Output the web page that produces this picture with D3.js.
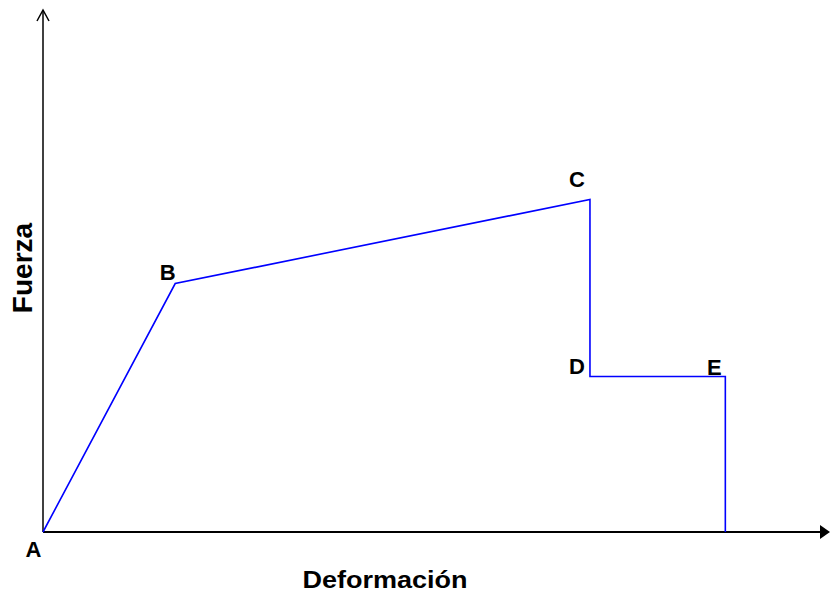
<!DOCTYPE html>
<html><head><meta charset="utf-8">
<script src="https://cdn.jsdelivr.net/npm/d3@7/dist/d3.min.js"></script>
<style>body{margin:0;background:#fff}svg{display:block}text{font-family:"Liberation Sans",Arial,sans-serif;font-weight:bold;fill:#000}</style>
</head><body>
<script>
const pointLabels = ["A","B","C","D","E"];
const deformacion = [0, 16.8, 69.5, 69.5, 86.7, 86.7];
const fuerza      = [0, 47.6, 63.7, 29.8, 29.8, 0];
const xTitle = "Deformación";
const yTitle = "Fuerza";

const W = 830, H = 596;
const svg = d3.select("body").append("svg").attr("width", W).attr("height", H);
const x = d3.scaleLinear().domain([0, 100]).range([43, 830]);
const y = d3.scaleLinear().domain([0, 100]).range([532, 10]);

// axes
svg.append("line").attr("x1", x(0)).attr("y1", y(0)).attr("x2", x(0)).attr("y2", y(100) + 1)
  .attr("stroke", "#000").attr("stroke-width", 1.5);
svg.append("path").attr("d", `M${x(0)-6},${y(100)+11}L${x(0)},${y(100)}L${x(0)+6},${y(100)+11}`)
  .attr("fill", "none").attr("stroke", "#000").attr("stroke-width", 1.5);
svg.append("line").attr("x1", x(0)).attr("y1", y(0)).attr("x2", x(100) - 8).attr("y2", y(0))
  .attr("stroke", "#000").attr("stroke-width", 2);
svg.append("path").attr("d", `M${x(100)-10},${y(0)-7}L${x(100)},${y(0)}L${x(100)-10},${y(0)+7}Z`)
  .attr("fill", "#000");

// curve
const pts = deformacion.map((d, i) => [d, fuerza[i]]);
svg.append("path").datum(pts)
  .attr("d", d3.line().x(d => x(d[0])).y(d => y(d[1])))
  .attr("fill", "none").attr("stroke", "#0000ff").attr("stroke-width", 1.6);

// point labels
const labelOffsets = [[-9.5, 25], [-7.5, -4], [-13, -12], [-13, -2], [-11, -1]];
pointLabels.forEach((t, i) => {
  svg.append("text").attr("x", x(deformacion[i]) + labelOffsets[i][0]).attr("y", y(fuerza[i]) + labelOffsets[i][1])
    .attr("text-anchor", "middle").attr("font-size", 22).text(t);
});

// titles
svg.append("text").attr("x", 385).attr("y", 588).attr("text-anchor", "middle")
  .attr("font-size", 24).attr("textLength", 165).attr("lengthAdjust", "spacingAndGlyphs").text(xTitle);
svg.append("text").attr("transform", "translate(32,268) rotate(-90)").attr("text-anchor", "middle")
  .attr("font-size", 28).text(yTitle);
</script>
</body></html>
